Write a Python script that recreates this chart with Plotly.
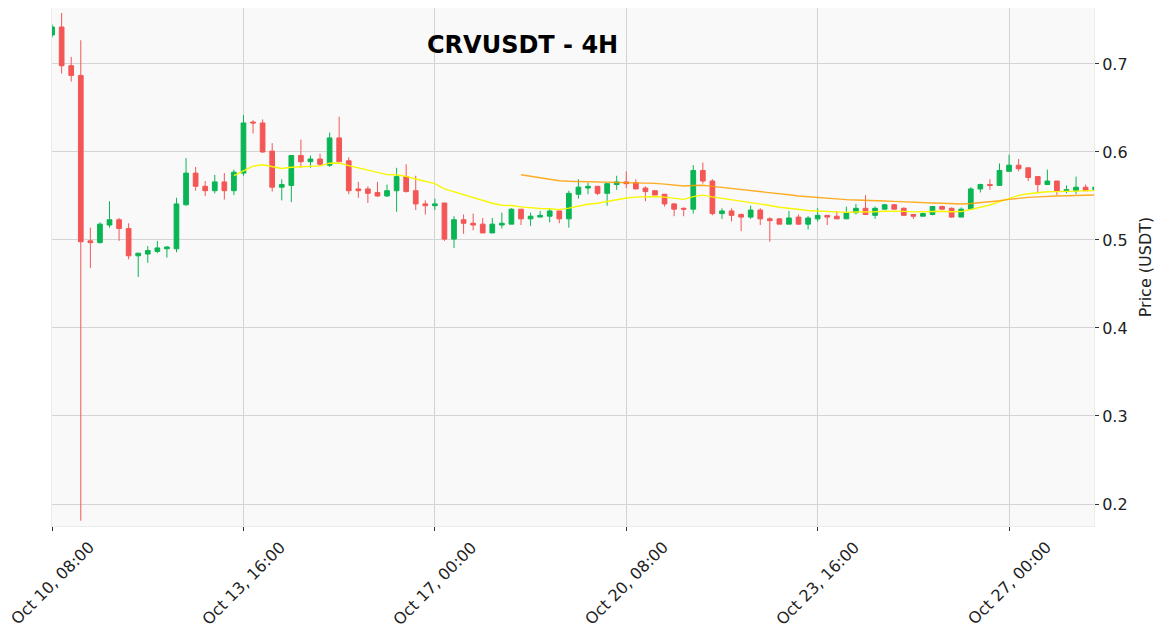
import pandas as pd
import plotly.graph_objects as go

opens = [0.733, 0.742, 0.698, 0.687, 0.499, 0.497, 0.517, 0.523, 0.513, 0.482,
         0.484, 0.487, 0.490, 0.490, 0.540, 0.576, 0.561, 0.556, 0.566, 0.556,
         0.576, 0.634, 0.633, 0.601, 0.560, 0.562, 0.596, 0.589, 0.592, 0.585,
         0.616, 0.590, 0.558, 0.558, 0.554, 0.550, 0.556, 0.572, 0.556, 0.541,
         0.539, 0.542, 0.501, 0.523, 0.519, 0.518, 0.508, 0.517, 0.518, 0.535,
         0.524, 0.526, 0.527, 0.533, 0.524, 0.552, 0.559, 0.561, 0.553, 0.563,
         0.566, 0.565, 0.559, 0.556, 0.552, 0.541, 0.536, 0.535, 0.579, 0.567,
         0.530, 0.533, 0.529, 0.526, 0.534, 0.524, 0.524, 0.518, 0.526, 0.518,
         0.524, 0.528, 0.527, 0.524, 0.531, 0.536, 0.528, 0.535, 0.540, 0.536,
         0.529, 0.527, 0.529, 0.538, 0.536, 0.526, 0.535, 0.558, 0.563, 0.562,
         0.578, 0.585, 0.582, 0.572, 0.563, 0.567, 0.556, 0.556, 0.560, 0.557]
highs = [0.745, 0.758, 0.708, 0.727, 0.514, 0.520, 0.544, 0.525, 0.519, 0.485,
         0.493, 0.499, 0.493, 0.548, 0.593, 0.583, 0.567, 0.574, 0.576, 0.580,
         0.642, 0.636, 0.637, 0.610, 0.569, 0.596, 0.614, 0.596, 0.598, 0.622,
         0.640, 0.594, 0.566, 0.561, 0.566, 0.563, 0.582, 0.586, 0.573, 0.545,
         0.547, 0.542, 0.527, 0.529, 0.530, 0.525, 0.525, 0.531, 0.536, 0.535,
         0.531, 0.533, 0.536, 0.533, 0.556, 0.569, 0.565, 0.561, 0.564, 0.573,
         0.578, 0.569, 0.561, 0.556, 0.552, 0.542, 0.537, 0.585, 0.588, 0.569,
         0.536, 0.536, 0.530, 0.539, 0.536, 0.526, 0.525, 0.533, 0.529, 0.527,
         0.536, 0.528, 0.533, 0.538, 0.541, 0.551, 0.538, 0.541, 0.541, 0.537,
         0.529, 0.531, 0.538, 0.539, 0.537, 0.537, 0.560, 0.564, 0.569, 0.587,
         0.597, 0.592, 0.582, 0.572, 0.580, 0.567, 0.562, 0.572, 0.563, 0.560]
lows = [0.730, 0.689, 0.680, 0.181, 0.468, 0.496, 0.514, 0.499, 0.478, 0.458,
        0.474, 0.485, 0.480, 0.486, 0.539, 0.556, 0.550, 0.553, 0.546, 0.551,
        0.573, 0.621, 0.599, 0.555, 0.545, 0.543, 0.582, 0.582, 0.584, 0.583,
        0.589, 0.552, 0.548, 0.542, 0.549, 0.549, 0.532, 0.554, 0.534, 0.529,
        0.534, 0.499, 0.491, 0.507, 0.511, 0.508, 0.508, 0.513, 0.518, 0.517,
        0.516, 0.526, 0.520, 0.519, 0.514, 0.547, 0.552, 0.551, 0.539, 0.557,
        0.559, 0.558, 0.544, 0.551, 0.538, 0.527, 0.527, 0.530, 0.564, 0.528,
        0.524, 0.521, 0.510, 0.524, 0.517, 0.498, 0.518, 0.518, 0.517, 0.512,
        0.521, 0.517, 0.524, 0.524, 0.529, 0.529, 0.524, 0.535, 0.535, 0.528,
        0.524, 0.527, 0.528, 0.535, 0.525, 0.526, 0.535, 0.554, 0.557, 0.562,
        0.578, 0.578, 0.567, 0.553, 0.563, 0.551, 0.553, 0.552, 0.556, 0.556]
closes = [0.742, 0.698, 0.687, 0.498, 0.497, 0.518, 0.523, 0.513, 0.482, 0.485,
          0.488, 0.491, 0.492, 0.541, 0.576, 0.561, 0.556, 0.566, 0.556, 0.577,
          0.633, 0.633, 0.600, 0.560, 0.563, 0.596, 0.589, 0.592, 0.586, 0.616,
          0.589, 0.556, 0.556, 0.553, 0.550, 0.556, 0.572, 0.555, 0.541, 0.539,
          0.541, 0.501, 0.523, 0.519, 0.517, 0.508, 0.518, 0.519, 0.535, 0.524,
          0.527, 0.528, 0.533, 0.524, 0.553, 0.560, 0.561, 0.553, 0.564, 0.566,
          0.564, 0.558, 0.555, 0.551, 0.541, 0.535, 0.535, 0.579, 0.567, 0.530,
          0.533, 0.528, 0.526, 0.534, 0.524, 0.522, 0.518, 0.525, 0.518, 0.525,
          0.528, 0.526, 0.524, 0.531, 0.536, 0.529, 0.536, 0.540, 0.535, 0.528,
          0.527, 0.530, 0.538, 0.535, 0.526, 0.535, 0.558, 0.563, 0.562, 0.579,
          0.585, 0.581, 0.571, 0.563, 0.567, 0.556, 0.557, 0.560, 0.556, 0.560]

dates = pd.date_range("2025-10-10 08:00", periods=len(closes), freq="4h")
s = pd.Series(closes)
ema_fast = s.ewm(span=20, adjust=False, min_periods=20).mean()
ema_slow = s.ewm(span=50, adjust=False, min_periods=50).mean()

tick_idx = [0, 20, 40, 60, 80, 100]
tick_vals = [dates[i] for i in tick_idx]
tick_text = [d.strftime("%b %d, %H:%M") for d in tick_vals]
y_ticks = [0.2, 0.3, 0.4, 0.5, 0.6, 0.7]

UP = "#0ab554"
DOWN = "#f45656"
FONT = "DejaVu Sans"

fig = go.Figure()
fig.add_trace(go.Candlestick(
    x=dates, open=opens, high=highs, low=lows, close=closes,
    increasing=dict(line=dict(color=UP, width=1), fillcolor=UP),
    decreasing=dict(line=dict(color=DOWN, width=1), fillcolor=DOWN),
    whiskerwidth=0, showlegend=False, name="CRVUSDT"))
fig.add_trace(go.Scatter(x=dates, y=ema_fast, mode="lines",
                         line=dict(color="#f7f700", width=1.4),
                         showlegend=False, name="EMA20"))
fig.add_trace(go.Scatter(x=dates, y=ema_slow, mode="lines",
                         line=dict(color="#ffa000", width=1.4),
                         opacity=0.85, showlegend=False, name="EMA50"))

annotations = [dict(text="<b>CRVUSDT - 4H</b>", xref="paper", yref="paper",
                    x=0.452, y=0.9286, xanchor="center", yanchor="middle",
                    showarrow=False, font=dict(family=FONT, size=24, color="black"))]
for tv, tt in zip(tick_vals, tick_text):
    annotations.append(dict(text=tt, x=tv, xref="x", y=-0.018, yref="paper",
                            xanchor="center", yanchor="top", textangle=-45,
                            showarrow=False,
                            font=dict(family=FONT, size=16, color="#222")))

fig.update_layout(
    width=1154, height=629,
    margin=dict(l=44, r=68, t=0, b=111, autoexpand=False),
    paper_bgcolor="white", plot_bgcolor="#f9f9f9",
    font=dict(family=FONT, size=16, color="#222"),
    showlegend=False,
    annotations=annotations,
    xaxis=dict(
        type="date", rangeslider=dict(visible=False), automargin=False,
        range=[dates[0] - pd.Timedelta(minutes=2), dates[-1] - pd.Timedelta(minutes=30)],
        tickvals=tick_vals, ticktext=tick_text, showticklabels=False,
        ticks="outside", ticklen=4, tickcolor="#333", tickwidth=1,
        showgrid=True, gridcolor="#d4d4d4", gridwidth=1.2,
        showline=True, linecolor="#ececec", mirror=True, zeroline=False),
    yaxis=dict(
        side="right", range=[0.175, 0.7636], automargin=False,
        tickvals=y_ticks, tickformat=".1f",
        ticks="outside", ticklen=4, tickcolor="#333", tickwidth=1,
        showgrid=True, gridcolor="#d4d4d4", gridwidth=1.2,
        showline=True, linecolor="#ececec", mirror=True, zeroline=False,
        title=dict(text="Price (USDT)", font=dict(family=FONT, size=16), standoff=13),
        tickfont=dict(family=FONT, size=16, color="#222")),
)

fig.write_html("out.html")
